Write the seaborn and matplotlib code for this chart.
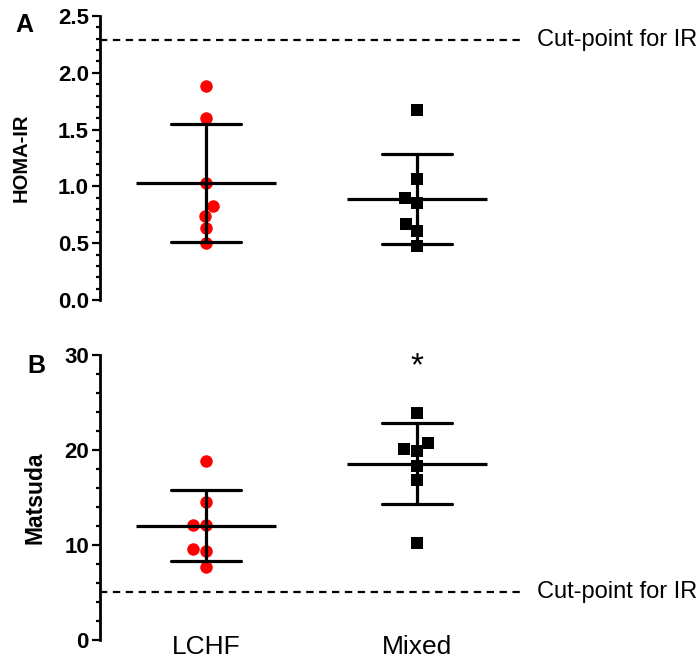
import numpy as np
import pandas as pd
import seaborn as sns
import matplotlib
matplotlib.use("Agg")
import matplotlib.pyplot as plt
import matplotlib.transforms as mtransforms
from matplotlib.ticker import MultipleLocator, FormatStrFormatter

# ---------------- data ----------------
groups = ["LCHF", "Mixed"]
homa_lchf = [1.88, 1.60, 1.03, 0.83, 0.74, 0.63, 0.50]
homa_mixed = [1.67, 1.065, 0.90, 0.85, 0.67, 0.61, 0.475]
matsuda_lchf = [18.8, 14.5, 12.1, 12.1, 9.56, 9.3, 7.6]
matsuda_mixed = [23.9, 20.7, 20.1, 19.9, 18.3, 16.8, 10.2]
homa_cut = 2.29
matsuda_cut = 5.0
panel_labels = ["A", "B"]
y_labels = ["HOMA-IR", "Matsuda"]
cut_label = "Cut-point for IR"
star_label = "*"

sns.set_style("ticks")
plt.rcParams["font.family"] = ["Liberation Sans", "DejaVu Sans"]
for key in ["text.color", "axes.labelcolor", "xtick.color", "ytick.color",
            "axes.edgecolor", "xtick.labelcolor", "ytick.labelcolor"]:
    plt.rcParams[key] = "black"

fig = plt.figure(figsize=(7.0, 6.68), dpi=100)
W, H = 700, 668
axA = fig.add_axes([100 / W, (H - 300) / H, 425 / W, 284 / H])
axB = fig.add_axes([100 / W, (H - 639.5) / H, 425 / W, 284.5 / H])


def make_df(a, b):
    return pd.DataFrame({
        "group": [groups[0]] * len(a) + [groups[1]] * len(b),
        "value": list(a) + list(b),
    })


def draw_panel(ax, a, b, ylim, major, minor, cut, ylabel, ylabel_x, ylabel_size, fmt):
    df = make_df(a, b)
    sns.swarmplot(data=df[df.group == groups[0]], x="group", y="value", order=groups,
                  color="#ff0000", marker="o", size=9, linewidth=0, ax=ax, zorder=3)
    sns.swarmplot(data=df[df.group == groups[1]], x="group", y="value", order=groups,
                  color="black", marker="s", size=9, linewidth=0, ax=ax, zorder=3)
    sns.pointplot(data=df, x="group", y="value", order=groups, errorbar="sd",
                  capsize=0.33, color="black", marker="_", markersize=101,
                  markeredgewidth=2.3, linestyle="none",
                  err_kws={"linewidth": 2.3}, ax=ax)
    for ln in ax.lines:
        ln.set_zorder(4)
    ax.axhline(cut, color="black", lw=1.6, dashes=(3.3, 2.5), zorder=2)
    trans = mtransforms.blended_transform_factory(ax.transAxes, ax.transData)
    ax.text(1.028, cut, cut_label, transform=trans, ha="left", va="center",
            fontsize=17, color="black", clip_on=False)
    ax.set_ylim(*ylim)
    ax.set_xlim(-0.5, 1.51)
    ax.yaxis.set_major_locator(MultipleLocator(major))
    ax.yaxis.set_minor_locator(MultipleLocator(minor))
    ax.yaxis.set_major_formatter(FormatStrFormatter(fmt))
    ax.tick_params(axis="y", which="major", length=6, width=1.6, labelsize=16,
                   pad=2, color="black", labelcolor="black")
    ax.tick_params(axis="y", which="minor", length=3, width=1.6, color="black")
    for lab in ax.get_yticklabels():
        lab.set_fontweight("bold")
    sns.despine(ax=ax, bottom=True)
    ax.spines["left"].set_linewidth(2.0)
    ax.spines["left"].set_color("black")
    ax.set_ylabel(ylabel, fontsize=ylabel_size, fontweight="bold", color="black")
    ax.yaxis.label.set_va("center")
    ax.yaxis.label.set_ha("center")
    ax.yaxis.set_label_coords(ylabel_x, 0.5)
    ax.set_xlabel("")


draw_panel(axA, homa_lchf, homa_mixed, (0, 2.5), 0.5, 0.1, homa_cut,
           y_labels[0], (21 - 100) / 425, 14.5, "%.1f")
axA.set_xticks([])

draw_panel(axB, matsuda_lchf, matsuda_mixed, (0, 30), 10, 2, matsuda_cut,
           y_labels[1], (35 - 100) / 425, 16.5, "%d")
axB.set_xticks(range(len(groups)))
axB.set_xticklabels(groups, fontsize=19, color="black")
axB.tick_params(axis="x", length=0, pad=-3)

axB.text(1, 27.9, star_label, ha="center", va="baseline", fontsize=24, color="black")

fig.text(24 / W, 1 - 25 / H, panel_labels[0], fontsize=18, fontweight="bold",
         ha="center", va="center", color="black")
fig.text(36 / W, 1 - 366 / H, panel_labels[1], fontsize=18, fontweight="bold",
         ha="center", va="center", color="black")

fig.savefig("out.png", dpi=100)
